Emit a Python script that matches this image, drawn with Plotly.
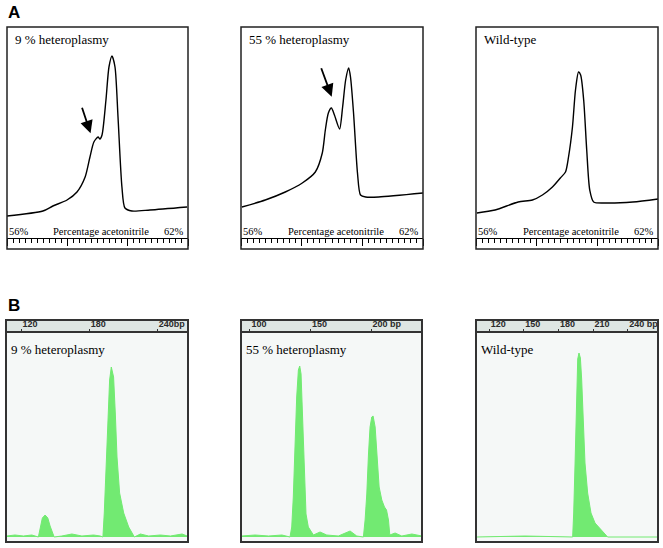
import plotly.graph_objects as go

# ---------------- Panel A: HPLC elution profiles (percentage acetonitrile) ----------------
A_titles = ["9 % heteroplasmy", "55 % heteroplasmy", "Wild-type"]

A1_x = [56.00, 57.19, 57.52, 57.99, 58.32, 58.59, 58.75, 58.88, 59.02, 59.08, 59.15,
        59.28, 59.38, 59.48, 59.58, 59.68, 59.81, 59.91, 60.14, 60.74, 61.97]
A1_y = [22, 27, 32, 38, 46, 61, 81, 96, 101, 99, 103,
        138, 171, 182, 171, 121, 51, 30, 27, 28, 31]

A2_x = [56.03, 56.80, 57.46, 58.02, 58.45, 58.68, 58.78, 58.88, 58.98, 59.08, 59.25,
        59.35, 59.45, 59.55, 59.61, 59.71, 59.84, 59.94, 60.11, 60.54, 62.00]
A2_y = [31, 38, 46, 55, 66, 85, 108, 125, 130, 123, 109,
        131, 158, 170, 161, 125, 65, 43, 41, 41, 45]

A3_x = [56.03, 56.63, 57.39, 57.86, 58.19, 58.52, 58.78, 58.95, 59.05, 59.18, 59.28,
        59.38, 59.45, 59.55, 59.65, 59.75, 59.88, 60.28, 61.17, 62.00]
A3_y = [25, 28, 36, 38, 43, 51, 60, 66, 81, 111, 148,
        166, 163, 138, 88, 48, 36, 35, 36, 39]

A_arrows = [(58.77, 104.7), (58.99, 141.3), None]   # arrow tips (shoulder / first peak)
A_marker = [59.0, 59.0, None]                        # green marker on the ruler
A_range = [56, 62]
A_labels = ["56%", "Percentage acetonitrile", "62%"]

# ---------------- Panel B: fragment analysis (bp) ----------------
B_titles = ["9 % heteroplasmy", "55 % heteroplasmy", "Wild-type"]

B1_x = [107.4, 114.7, 122.1, 129.5, 135.3, 136.8, 138.8, 141.2, 143.6, 145.6, 148.0, 149.2,
        155.9, 164.8, 173.6, 183.9, 189.8,
        192.1, 193.3, 195.1, 196.5, 198.0, 199.5, 201.5, 203.0, 204.5, 206.8, 210.4, 214.8, 218.6, 219.8,
        225.1, 232.4, 242.7, 251.5, 261.8, 266.3]
B1_y = [1, 2, 1, 2, 0, 9, 19, 22, 19, 11, 2, 0,
        1, 3, 1, 2, 1,
        0, 24, 74, 117, 157, 170, 160, 124, 80, 44, 24, 10, 2, 0,
        3, 1, 2, 1, 3, 1]

B2_x = [93.2, 104.2, 115.4, 126.4, 133.1, 134.5, 135.8, 137.2, 138.6, 140.0, 141.1, 142.2, 143.3,
        144.7, 146.3, 148.2, 150.5, 152.4, 157.9, 163.4, 173.0, 182.7, 188.2,
        193.7, 195.1, 196.5, 197.9, 199.2, 200.6, 201.7, 203.4, 204.8, 206.7, 208.9, 211.1, 212.8,
        214.4, 215.5, 219.9, 225.4, 233.7, 242.0]
B2_y = [1, 2, 1, 2, 0, 10, 40, 90, 140, 167, 171, 163, 123,
        70, 23, 10, 6, 2, 5, 2, 1, 6, 1,
        0, 17, 43, 83, 110, 120, 121, 110, 83, 50, 37, 30, 27,
        17, 2, 4, 1, 3, 1]

B3_x = [109.1, 151.0, 192.3, 193.2, 194.4, 195.5, 196.7, 197.8, 199.0, 200.1, 201.6, 203.0,
        205.3, 208.2, 211.7, 216.0, 220.3, 222.6, 266.2]
B3_y = [0, 1, 0, 24, 74, 141, 178, 184, 179, 158, 118, 74,
        44, 24, 14, 8, 3, 0, 0]

B_ranges = [[106.8, 267.0], [92.6, 242.1], [108.5, 266.3]]
B_tickvals = [[120, 180, 240], [100, 150, 200], [120, 150, 180, 210, 240]]
B_ticktext = [["120", "180", "240bp"], ["100", "150", "200 bp"],
              ["120", "150", "180", "210", "240 bp"]]

# ---------------- geometry ----------------
W, H = 663, 548
col_px = [(7, 188), (241, 423), (476, 658)]
colB_px = [(6, 188), (241, 422), (476, 658)]
A_top, A_ruler, A_bottom = 27, 238, 249
B_top, B_head, B_bottom = 320, 333, 542

def px(v):
    return v / W

def py(v):
    return 1 - v / H

SERIF = "Liberation Serif, Times New Roman, serif"
GREEN = "#72ea72"

fig = go.Figure()
layout = dict(width=W, height=H, margin=dict(l=0, r=0, t=0, b=0),
              paper_bgcolor="white", plot_bgcolor="rgba(0,0,0,0)",
              showlegend=False)
shapes, annotations = [], []

A_data = [(A1_x, A1_y), (A2_x, A2_y), (A3_x, A3_y)]
for i, (xs, ys) in enumerate(A_data):
    n = i + 1
    xa, ya = f"x{n}" if n > 1 else "x", f"y{n}" if n > 1 else "y"
    xkey, ykey = f"xaxis{n}" if n > 1 else "xaxis", f"yaxis{n}" if n > 1 else "yaxis"
    x0, x1 = col_px[i]
    layout[xkey] = dict(domain=[px(x0), px(x1)], anchor=ya, range=A_range,
                        showgrid=False, zeroline=False, showline=True,
                        linecolor="black", linewidth=1,
                        ticks="outside", ticklen=7, tickwidth=1, tickcolor="black",
                        tick0=56, dtick=2, showticklabels=False,
                        minor=dict(ticks="outside", ticklen=4, tickwidth=1,
                                   tickcolor="black", tick0=56, dtick=0.2))
    layout[ykey] = dict(domain=[py(A_ruler), py(A_top)], anchor=xa, range=[0, 211],
                        visible=False)
    fig.add_trace(go.Scatter(x=xs, y=ys, mode="lines", xaxis=xa, yaxis=ya,
                             line=dict(color="black", width=1.4, shape="spline",
                                       smoothing=0.7), hoverinfo="skip"))
    if A_marker[i] is not None:
        fig.add_trace(go.Scatter(x=[A_marker[i]], y=[-2], mode="markers", xaxis=xa,
                                 yaxis=ya, cliponaxis=False,
                                 marker=dict(symbol="diamond", size=6, color="#8be88b"),
                                 hoverinfo="skip"))
    # frame
    yb = -(A_bottom - A_ruler) / (A_ruler - A_top)
    shapes.append(dict(type="rect", xref=f"{xa} domain", yref=f"{ya} domain",
                       x0=0, x1=1, y0=yb, y1=1, line=dict(color="#222", width=1.5)))
    annotations.append(dict(text=A_titles[i], xref=f"{xa} domain", yref=f"{ya} domain",
                            x=0.035, y=0.943, xanchor="left", yanchor="middle",
                            showarrow=False, font=dict(family=SERIF, size=13, color="black")))
    annotations.append(dict(text=A_labels[0], xref=xa, yref=ya, x=A_range[0], y=0,
                            xanchor="left", yanchor="bottom", showarrow=False, yshift=-1,
                            font=dict(family=SERIF, size=10.5, color="black")))
    annotations.append(dict(text=A_labels[1], xref=xa, yref=ya, x=59.12, y=0,
                            xanchor="center", yanchor="bottom", showarrow=False, yshift=-1,
                            font=dict(family=SERIF, size=10.5, color="black")))
    annotations.append(dict(text=A_labels[2], xref=xa, yref=ya, x=A_range[1], y=0,
                            xanchor="right", yanchor="bottom", showarrow=False, yshift=-1,
                            xshift=-2, font=dict(family=SERIF, size=10.5, color="black")))
    if A_arrows[i] is not None:
        tx, ty = A_arrows[i]
        annotations.append(dict(x=tx, y=ty, xref=xa, yref=ya, text="", showarrow=True,
                                ax=-9 if i == 0 else -11, ay=-27 if i == 0 else -30,
                                arrowhead=2, arrowsize=1.4, arrowwidth=1.8,
                                arrowcolor="black", standoff=0))

B_data = [(B1_x, B1_y), (B2_x, B2_y), (B3_x, B3_y)]
for i, (xs, ys) in enumerate(B_data):
    n = i + 4
    xa, ya = f"x{n}", f"y{n}"
    x0, x1 = colB_px[i]
    head = (B_head - B_top) / (B_bottom - B_head)
    layout[f"xaxis{n}"] = dict(domain=[px(x0), px(x1)], anchor=ya, range=B_ranges[i],
                               side="top", showgrid=False, zeroline=False, showline=True,
                               linecolor="#333", linewidth=2,
                               ticks="outside", ticklen=2, tickwidth=1, tickcolor="#333",
                               tickmode="array", tickvals=B_tickvals[i],
                               ticktext=B_ticktext[i], ticklabelposition="outside right",
                               tickangle=0,
                               tickfont=dict(family="Liberation Sans, Arial, sans-serif",
                                             size=9, color="#2a2a2a", weight="bold"))
    layout[f"yaxis{n}"] = dict(domain=[py(B_bottom), py(B_head)], anchor=xa,
                               range=[-5, 204], visible=False)
    shapes.append(dict(type="rect", xref=f"{xa} domain", yref=f"{ya} domain",
                       x0=0, x1=1, y0=0, y1=1, layer="below", line=dict(width=0),
                       fillcolor="#f5f8f7"))
    shapes.append(dict(type="rect", xref=f"{xa} domain", yref=f"{ya} domain",
                       x0=0, x1=1, y0=1, y1=1 + head, layer="below", line=dict(width=0),
                       fillcolor="#dee6e3"))
    shapes.append(dict(type="rect", xref=f"{xa} domain", yref=f"{ya} domain",
                       x0=0, x1=1, y0=0, y1=1 + head, line=dict(color="#333", width=2)))
    fig.add_trace(go.Scatter(x=xs, y=ys, mode="lines", xaxis=xa, yaxis=ya,
                             fill="tozeroy", fillcolor=GREEN,
                             line=dict(color=GREEN, width=1), hoverinfo="skip"))
    annotations.append(dict(text=B_titles[i], xref=f"{xa} domain", yref=f"{ya} domain",
                            x=0.015, y=0.919, xanchor="left", yanchor="middle",
                            showarrow=False, font=dict(family=SERIF, size=13, color="black")))

# panel letters
annotations.append(dict(text="<b>A</b>", xref="paper", yref="paper", x=px(6), y=py(13),
                        xanchor="left", yanchor="middle", showarrow=False,
                        font=dict(family="Liberation Sans, Arial, sans-serif", size=17,
                                  color="black")))
annotations.append(dict(text="<b>B</b>", xref="paper", yref="paper", x=px(6), y=py(305),
                        xanchor="left", yanchor="middle", showarrow=False,
                        font=dict(family="Liberation Sans, Arial, sans-serif", size=17,
                                  color="black")))

layout["shapes"] = shapes
layout["annotations"] = annotations
fig.update_layout(**layout)
fig.write_html("out.html", config={"displayModeBar": False},
               post_script="document.body.style.margin='0';"
                           "document.body.style.overflow='hidden';")
